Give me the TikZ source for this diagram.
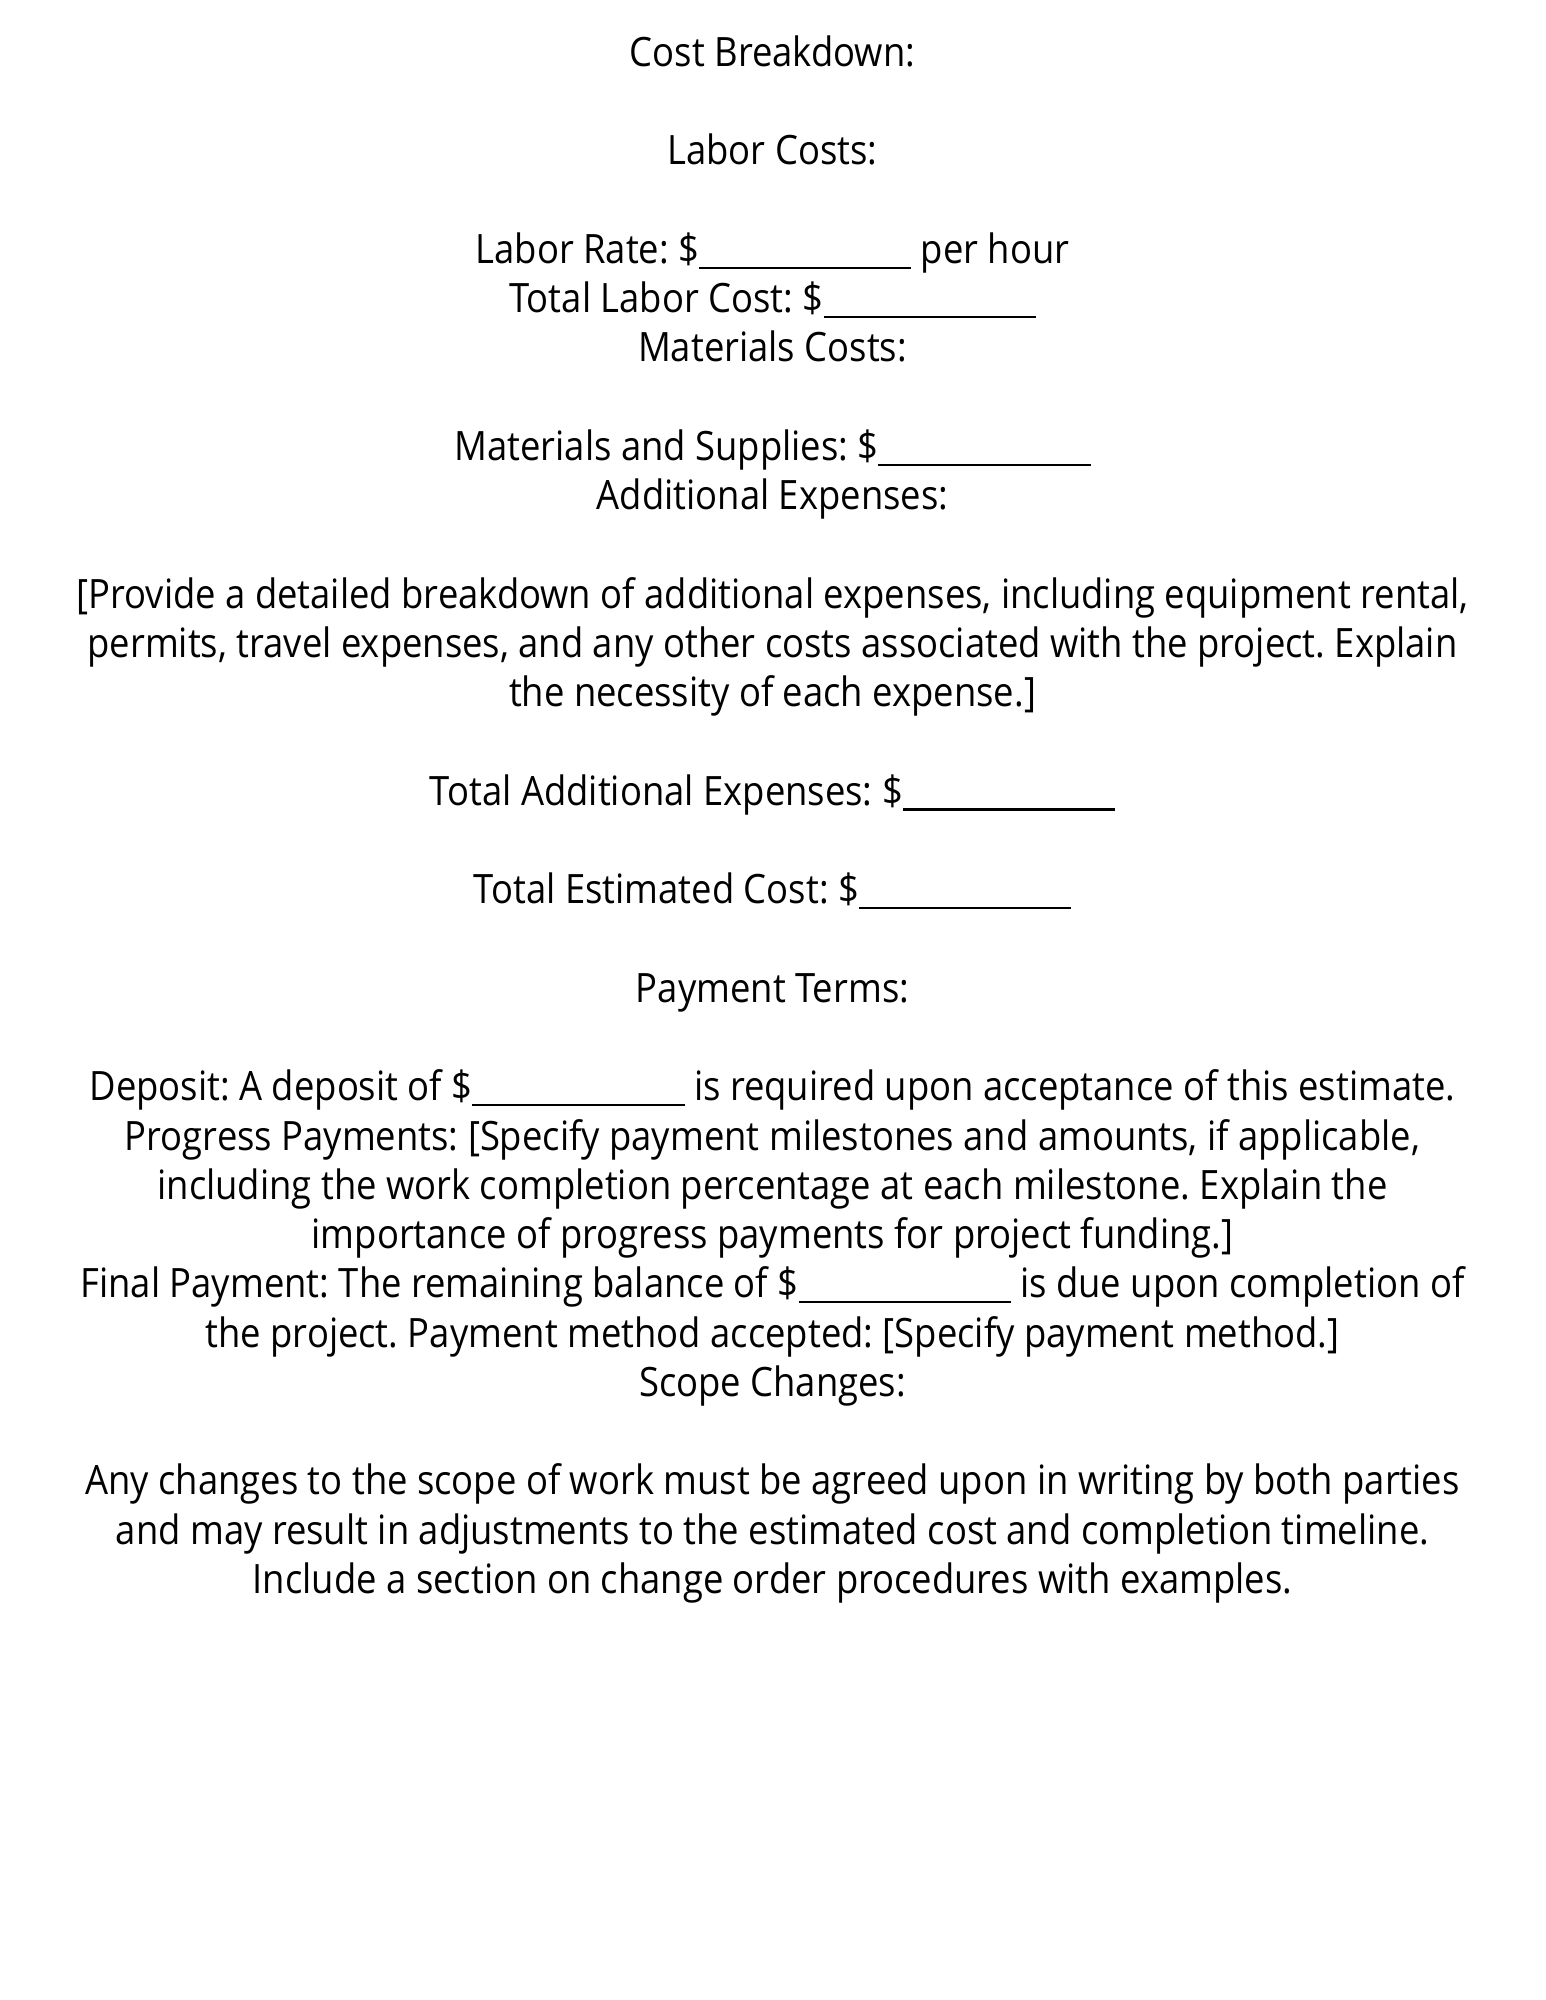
\documentclass[tikz,border=0pt]{standalone}
\usepackage{fontspec}
\setmainfont{Open Sans}[FakeStretch=0.90]
\usetikzlibrary{positioning}

\frenchspacing
\newcommand{\blank}{\rule[-1.6pt]{2.12cm}{0.7pt}}

\tikzset{
  txtline/.style={anchor=base, inner sep=0pt, font=\fontsize{11.5pt}{14pt}\selectfont}
}

\begin{document}
\begin{tikzpicture}[x=0.01cm, y=-0.01cm]
  \useasboundingbox[fill=white] (0,0) rectangle (1545,2000);

  % Cost breakdown
  \node[txtline] (title) at (772.5, {66.3+49.26*0}) {Cost Breakdown:};

  % Labor
  \node[txtline] (labor) at (772.5, {66.3+49.26*2}) {Labor Costs:};
  \node[txtline] (rate) at (772.5, {66.3+49.26*4}) {Labor Rate: \$\blank{} per hour};
  \node[txtline] (labortotal) at (772.5, {66.3+49.26*5}) {Total Labor Cost: \$\blank};

  % Materials
  \node[txtline] (materials) at (772.5, {66.3+49.26*6}) {Materials Costs:};
  \node[txtline] (supplies) at (772.5, {66.3+49.26*8}) {Materials and Supplies: \$\blank};

  % Additional expenses
  \node[txtline] (additional) at (772.5, {66.3+49.26*9}) {Additional Expenses:};
  \node[txtline] (addtext1) at (772.5, {66.3+49.26*11}) {[Provide a detailed breakdown of additional expenses, including equipment rental,};
  \node[txtline] (addtext2) at (772.5, {66.3+49.26*12}) {permits, travel expenses, and any other costs associated with the project. Explain};
  \node[txtline] (addtext3) at (772.5, {66.3+49.26*13}) {the necessity of each expense.]};
  \node[txtline] (addtotal) at (772.5, {66.3+49.26*15}) {Total Additional Expenses: \$\blank};
  \node[txtline] (esttotal) at (772.5, {66.3+49.26*17}) {Total Estimated Cost: \$\blank};

  % Payment terms
  \node[txtline] (payment) at (772.5, {66.3+49.26*19}) {Payment Terms:};
  \node[txtline] (deposit) at (772.5, {66.3+49.26*21}) {Deposit: A deposit of \$\blank{} is required upon acceptance of this estimate.};
  \node[txtline] (progress1) at (772.5, {66.3+49.26*22}) {Progress Payments: [Specify payment milestones and amounts, if applicable,};
  \node[txtline] (progress2) at (772.5, {66.3+49.26*23}) {including the work completion percentage at each milestone. Explain the};
  \node[txtline] (progress3) at (772.5, {66.3+49.26*24}) {importance of progress payments for project funding.]};
  \node[txtline] (final1) at (772.5, {66.3+49.26*25}) {Final Payment: The remaining balance of \$\blank{} is due upon completion of};
  \node[txtline] (final2) at (772.5, {66.3+49.26*26}) {the project. Payment method accepted: [Specify payment method.]};

  % Scope changes
  \node[txtline] (scope) at (772.5, {66.3+49.26*27}) {Scope Changes:};
  \node[txtline] (scope1) at (772.5, {66.3+49.26*29}) {Any changes to the scope of work must be agreed upon in writing by both parties};
  \node[txtline] (scope2) at (772.5, {66.3+49.26*30}) {and may result in adjustments to the estimated cost and completion timeline.};
  \node[txtline] (scope3) at (772.5, {66.3+49.26*31}) {Include a section on change order procedures with examples.};
\end{tikzpicture}
\end{document}
